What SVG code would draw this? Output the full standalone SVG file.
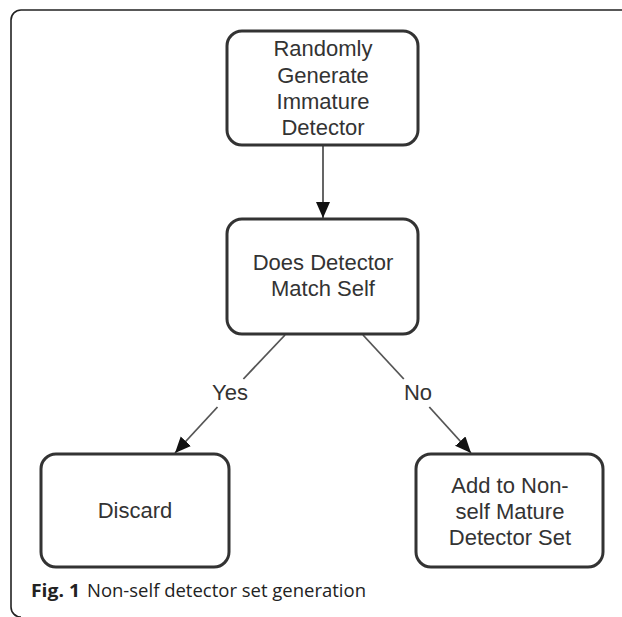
<svg xmlns="http://www.w3.org/2000/svg" width="622" height="617" viewBox="0 0 622 617">
<style>
.box{fill:#fff;stroke:#333;stroke-width:3}
.t{font-family:"Liberation Sans",Arial,sans-serif;font-size:22px;fill:#333;text-anchor:middle}
.c{fill:none;stroke:#555;stroke-width:1.8}
.lbl{font-family:"Liberation Sans",Arial,sans-serif;font-size:22px;fill:#333;text-anchor:middle}
.cap{font-family:"Open Sans","Noto Sans",sans-serif;font-size:18.5px;fill:#222}
</style>
<defs>
<marker id="ah" markerUnits="userSpaceOnUse" markerWidth="18" markerHeight="16" refX="16" refY="7" orient="auto">
<path d="M0,0 L16,7 L0,14 Z" fill="#111"/>
</marker>
</defs>
<rect width="622" height="617" fill="#fff"/>
<path d="M640 10 H21 A10 10 0 0 0 11 20 V607 A10 10 0 0 0 21 617" fill="none" stroke="#222" stroke-width="1.6"/>
<g id="connectors">
<line class="c" x1="323" y1="146" x2="323" y2="218" marker-end="url(#ah)"/>
<line class="c" x1="285" y1="335" x2="243.4" y2="379"/>
<line class="c" x1="217.5" y1="407" x2="175" y2="453" marker-end="url(#ah)"/>
<line class="c" x1="363" y1="335" x2="403.8" y2="379"/>
<line class="c" x1="429.3" y1="407" x2="471" y2="453" marker-end="url(#ah)"/>
<text class="lbl" x="230" y="400">Yes</text>
<text class="lbl" x="418" y="400">No</text>
</g>
<g id="n1">
<rect class="box" x="227" y="31" width="191" height="114" rx="15"/>
<text class="t" x="323" y="56">Randomly</text>
<text class="t" x="323" y="82.5">Generate</text>
<text class="t" x="323" y="109">Immature</text>
<text class="t" x="323" y="135">Detector</text>
</g>
<g id="n2">
<rect class="box" x="227" y="219" width="191" height="115" rx="15"/>
<text class="t" x="323" y="270">Does Detector</text>
<text class="t" x="323" y="296">Match Self</text>
</g>
<g id="n3">
<rect class="box" x="41" y="454" width="188" height="113" rx="15"/>
<text class="t" x="135" y="518">Discard</text>
</g>
<g id="n4">
<rect class="box" x="416" y="454" width="187" height="113" rx="15"/>
<text class="t" x="510" y="493">Add to Non-</text>
<text class="t" x="510" y="519">self Mature</text>
<text class="t" x="510" y="545">Detector Set</text>
</g>
<text class="cap" x="31" y="597" font-weight="bold" textLength="49" lengthAdjust="spacingAndGlyphs">Fig. 1</text>
<text class="cap" x="87" y="597" textLength="279" lengthAdjust="spacingAndGlyphs">Non-self detector set generation</text>
</svg>
